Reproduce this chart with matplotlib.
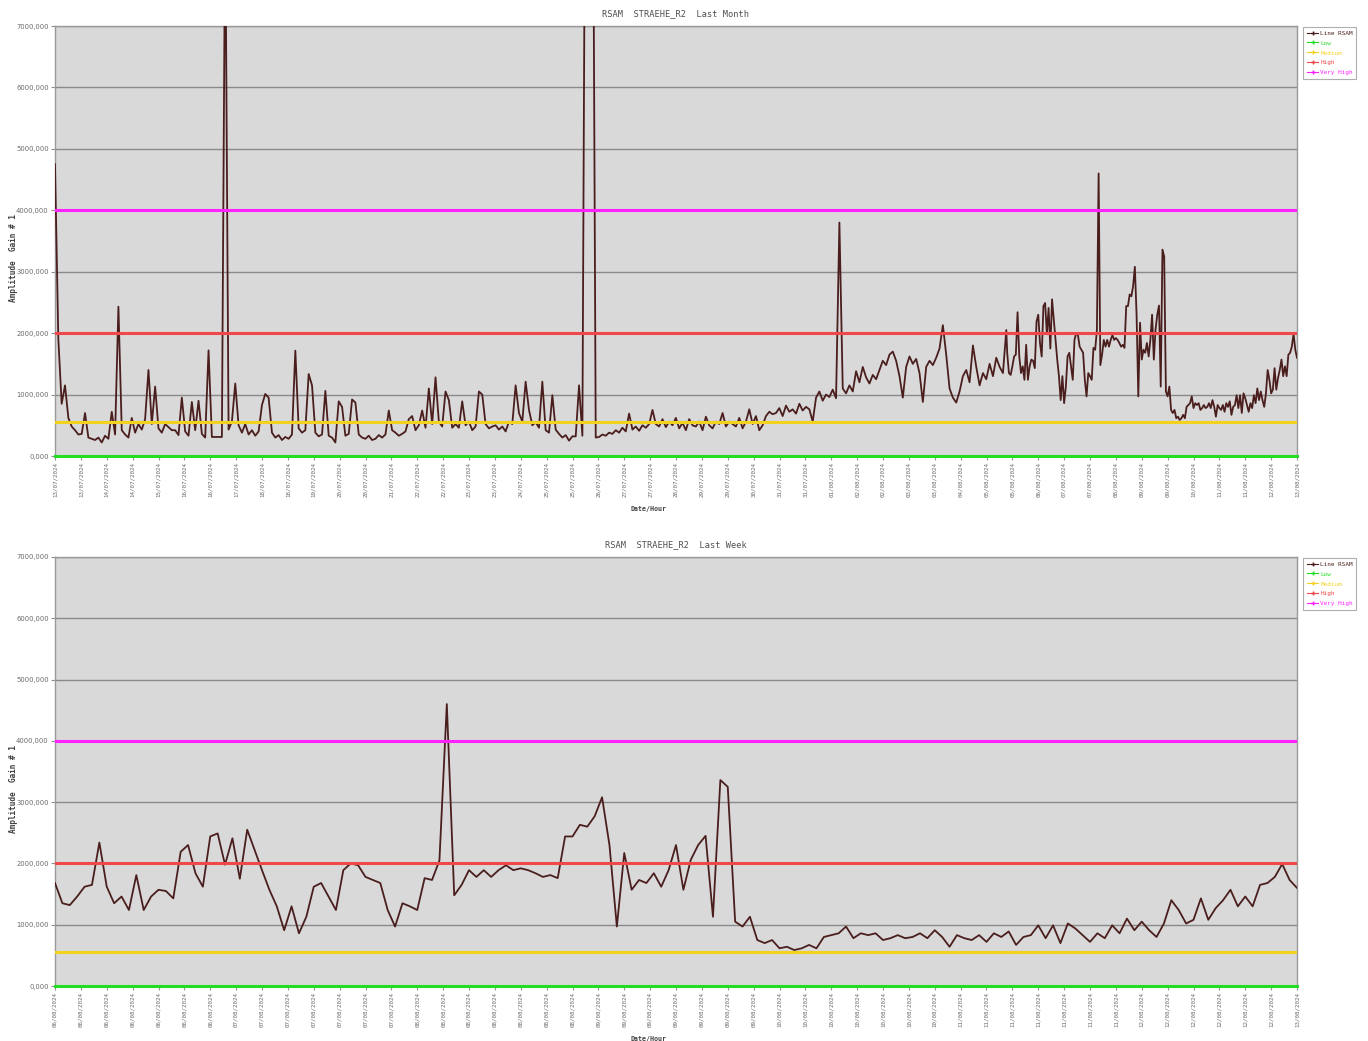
import numpy as np
import matplotlib
matplotlib.use("Agg")
import matplotlib.pyplot as plt
from matplotlib.lines import Line2D

# Alert thresholds (RSAM amplitude)
LOW = 0
MEDIUM = 560
HIGH = 2000
VERY_HIGH = 4000

# RSAM, 13/07 -> 05/08, one sample about every two hours (one row per day)
month_early = [
    4750, 1900, 850, 1150, 620, 480, 420, 350, 360, 700, 300, 280,
    260, 300, 220, 330, 280, 720, 350, 2430, 420, 350, 300, 620,
    380, 520, 430, 600, 1400, 520, 1130, 450, 380, 520, 470, 420,
    420, 340, 950, 400, 330, 880, 420, 900, 360, 300, 1720, 310,
    310, 310, 310, 9000, 430, 560, 1180, 500, 380, 520, 350, 420,
    330, 400, 830, 1010, 950, 380, 300, 340, 260, 310, 280, 350,
    1715, 450, 380, 420, 1335, 1150, 380, 320, 350, 1060, 330, 300,
    220, 890, 800, 330, 360, 920, 870, 350, 300, 280, 330, 260,
    280, 340, 300, 350, 740, 420, 380, 330, 360, 400, 600, 650,
    420, 500, 740, 460, 1100, 520, 1280, 560, 480, 1050, 910, 460,
    520, 460, 890, 500, 560, 420, 480, 1050, 1000, 520, 450, 480,
    500, 430, 480, 400, 560, 520, 1150, 700, 560, 1210, 750, 500,
    550, 460, 1210, 420, 380, 990, 430, 360, 300, 340, 250, 320,
    320, 1150, 330, 12000, 12000, 12000, 300, 310, 350, 330, 380, 360,
    420, 380, 460, 400, 690, 430, 480, 410, 500, 460, 520, 750,
    520, 480, 600, 470, 560, 500, 620, 450, 540, 420, 600, 500,
    480, 560, 420, 640, 500, 450, 560, 520, 700, 480, 560, 520,
    480, 620, 450, 560, 760, 520, 650, 420, 500, 650, 720, 680,
    700, 780, 650, 820, 720, 760, 690, 850, 740, 800, 760, 560,
    950, 1050, 900, 1000, 960, 1080, 940, 3800, 1100, 1020, 1150, 1050,
    1380, 1200, 1450, 1280, 1180, 1320, 1250, 1400, 1550, 1480, 1650, 1700,
    1550, 1300, 950, 1450, 1620, 1500, 1580, 1350, 880, 1450, 1550, 1480,
    1600, 1750, 2130, 1650, 1100, 950, 870, 1050, 1300, 1400, 1200, 1800,
    1450, 1150, 1350, 1250, 1500, 1300, 1600, 1450, 1350, 2050,
]

# RSAM, 06/08 -> 13/08, hourly
week_rsam = [
    1680, 1350, 1320, 1460, 1620, 1650, 2340, 1620, 1350, 1460, 1240, 1810,
    1240, 1460, 1570, 1550, 1430, 2190, 2300, 1840, 1620, 2440, 2490, 1980,
    2410, 1750, 2550, 2220, 1890, 1570, 1300, 910, 1300, 860, 1130, 1620,
    1680, 1460, 1240, 1890, 2000, 1970, 1780, 1730, 1680, 1240, 970, 1350,
    1300, 1240, 1760, 1730, 2050, 4600, 1480, 1650, 1890, 1780, 1890, 1780,
    1890, 1970, 1890, 1920, 1890, 1840, 1780, 1810, 1760, 2440, 2440, 2630,
    2600, 2770, 3080, 2300, 970, 2170, 1570, 1730, 1680, 1840, 1620, 1890,
    2300, 1570, 2060, 2300, 2450, 1130, 3360, 3250, 1050, 970, 1130, 750,
    700, 750, 615, 640, 587, 615, 670, 615, 800, 830, 860, 970,
    780, 860, 830, 860, 750, 780, 830, 780, 800, 860, 780, 910,
    800, 640, 830, 780, 750, 830, 720, 860, 800, 890, 670, 800,
    830, 990, 780, 990, 700, 1020, 940, 830, 720, 860, 780, 990,
    860, 1100, 910, 1050, 910, 800, 1020, 1400, 1240, 1020, 1080, 1430,
    1080, 1270, 1400, 1570, 1300, 1460, 1300, 1650, 1680, 1780, 1990, 1730,
    1600,
]

month_ticks = [
    "13/07/2024", "13/07/2024", "14/07/2024", "14/07/2024", "15/07/2024",
    "16/07/2024", "16/07/2024", "17/07/2024", "18/07/2024", "18/07/2024",
    "19/07/2024", "20/07/2024", "20/07/2024", "21/07/2024", "22/07/2024",
    "22/07/2024", "23/07/2024", "23/07/2024", "24/07/2024", "25/07/2024",
    "25/07/2024", "26/07/2024", "27/07/2024", "27/07/2024", "28/07/2024",
    "29/07/2024", "29/07/2024", "30/07/2024", "31/07/2024", "31/07/2024",
    "01/08/2024", "02/08/2024", "02/08/2024", "03/08/2024", "03/08/2024",
    "04/08/2024", "05/08/2024", "05/08/2024", "06/08/2024", "07/08/2024",
    "07/08/2024", "08/08/2024", "09/08/2024", "09/08/2024", "10/08/2024",
    "11/08/2024", "11/08/2024", "12/08/2024", "13/08/2024",
]

week_ticks = (["06/08/2024"] * 7 + ["07/08/2024"] * 7 + ["08/08/2024"] * 7
              + ["09/08/2024"] * 7 + ["10/08/2024"] * 7 + ["11/08/2024"] * 7
              + ["12/08/2024"] * 6 + ["13/08/2024"])

# time axes (hours)
MONTH_SPAN_H = 720
WEEK_SPAN_H = 168
EARLY_STEP_H = 1.935

t_early = np.arange(len(month_early)) * EARLY_STEP_H
t_week = np.arange(len(week_rsam), dtype=float)
t_month = np.concatenate([t_early, MONTH_SPAN_H - WEEK_SPAN_H + t_week])
v_month = np.concatenate([month_early, week_rsam])

LINE_C = "#4b1e1e"
GRID_C = "#8a8a8a"
PLOT_BG = "#d9d9d9"
TXT_C = "#6a6a6a"

levels = [
    ("Low", LOW, "#22dd22"),
    ("Medium", MEDIUM, "#f2d21e"),
    ("High", HIGH, "#f04848"),
    ("Very High", VERY_HIGH, "#ff22ff"),
]

fig = plt.figure(figsize=(13.68, 10.41), dpi=100)
fig.patch.set_facecolor("white")

W = 1368.0
H = 1041.0
ax_top = fig.add_axes([55 / W, 1 - 456 / H, 1242 / W, 430 / H])
ax_bot = fig.add_axes([55 / W, 1 - 986 / H, 1242 / W, 429 / H])


def draw(ax, t, v, span, ticks, title):
    ax.set_facecolor(PLOT_BG)
    ax.set_xlim(0, span)
    ax.set_ylim(0, 7000)
    yt = np.arange(0, 7001, 1000)
    ax.set_yticks(yt)
    ax.set_yticklabels([f"{int(y)},000" for y in yt])
    for y in yt[1:]:
        ax.axhline(y, color=GRID_C, lw=1.0, zorder=1)
    ax.plot(t, v, color=LINE_C, lw=1.3, zorder=3)
    handles = [Line2D([], [], color=LINE_C, lw=0.8, marker="+", ms=3.5,
                      label="Line RSAM")]
    for name, val, col in levels:
        ax.axhline(val, color=col, lw=2.2, zorder=4, clip_on=(val > 0))
        handles.append(Line2D([], [], color=col, lw=0.8, marker="+", ms=3.5,
                              label=name))
    xt = np.linspace(0, span, len(ticks))
    ax.set_xticks(xt)
    ax.set_xticklabels(ticks, rotation=90, fontsize=4.2, color=TXT_C,
                       family="DejaVu Sans Mono")
    ax.tick_params(axis="y", labelsize=4.9, labelcolor=TXT_C)
    ax.tick_params(direction="out", length=3, width=0.8, color="#909090",
                   pad=1.5)
    for s in ax.spines.values():
        s.set_color("#9a9a9a")
        s.set_linewidth(1.0)
    ax.set_title(title, fontsize=6.2, family="DejaVu Sans Mono",
                 color="#505050", pad=7)
    ax.set_xlabel("Date/Hour", fontsize=4.8, fontweight="bold",
                  color="#404040", family="DejaVu Sans Mono")
    ax.xaxis.set_label_coords(0.478, -0.116)
    ax.set_ylabel("Amplitude  Gain # 1", fontsize=5.6, fontweight="bold",
                  color="#404040", family="DejaVu Sans Mono")
    ax.yaxis.set_label_coords(-0.0295, 0.46)
    leg = ax.legend(handles=handles, loc="upper left",
                    bbox_to_anchor=(1.0048, 0.998), borderaxespad=0,
                    frameon=True, fancybox=False,
                    handlelength=2.0, handletextpad=0.3, labelspacing=0.8,
                    borderpad=0.6, prop={"family": "DejaVu Sans Mono",
                                         "size": 4.3})
    leg.get_frame().set_edgecolor("#9a9a9a")
    leg.get_frame().set_linewidth(0.8)
    for txt, h in zip(leg.get_texts(), handles):
        txt.set_color(h.get_color())


draw(ax_top, t_month, v_month, MONTH_SPAN_H, month_ticks,
     "RSAM  STRAEHE_R2  Last Month")
draw(ax_bot, t_week, week_rsam, WEEK_SPAN_H, week_ticks,
     "RSAM  STRAEHE_R2  Last Week")

fig.savefig("out.png", dpi=100, facecolor="white")
